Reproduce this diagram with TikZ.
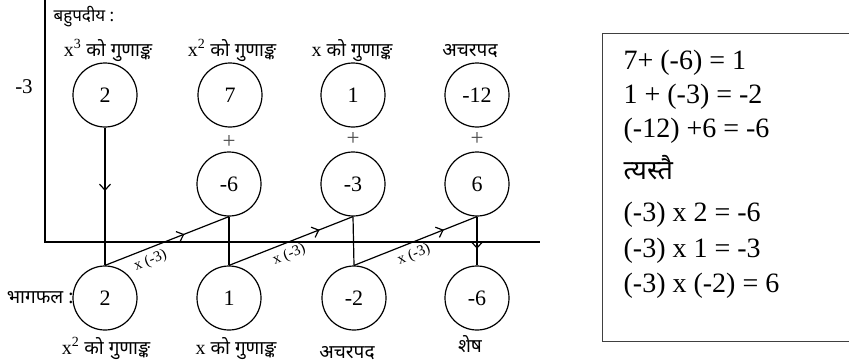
\documentclass[tikz,border=0pt]{standalone}
\usepackage{fontspec}
\setmainfont{Liberation Serif}
\newfontfamily\dev[Script=Devanagari]{Noto Sans}
\usetikzlibrary{arrows.meta,decorations.markings}
\newcommand{\dv}[1]{{\dev\fontsize{19}{21}\selectfont #1}}
\begin{document}
\begin{tikzpicture}[x=1pt,y=-1pt,line width=1.2pt,
  circ/.style={circle,draw,minimum size=64pt,inner sep=0pt,font=\fontsize{22}{24}\selectfont},
  lab/.style={font=\fontsize{20}{22}\selectfont,inner sep=0pt,anchor=base},
  devlab/.style={font=\fontsize{19}{21}\selectfont\dev,inner sep=0pt,anchor=base},
  plus/.style={font=\fontsize{23}{25}\selectfont,text=black!70,inner sep=0pt},
  mul/.style={font=\fontsize{15}{17}\selectfont,inner sep=0pt,sloped,below=5pt},
  boxtxt/.style={font=\fontsize{28}{30}\selectfont,inner sep=0pt,anchor=base west},
  midarrow/.style={postaction={decorate},decoration={markings,
     mark=at position #1 with {\arrow{Straight Barb[length=6pt,width=11pt,line width=1.2pt]}}}}]
\useasboundingbox (0,0) rectangle (849,364);

% axes
\coordinate (ytop) at (45,0);
\coordinate (corner) at (45,242);
\coordinate (xend) at (540,242);
\draw (ytop) -- (corner) -- (xend);

% texts on left
\node[font=\fontsize{17}{19}\selectfont\dev,anchor=base west,inner sep=0pt] (poly) at (53,21) {बहुपदीय :};
\node[font=\fontsize{21}{23}\selectfont,inner sep=0pt] (div) at (24,87) {-3};
\node[font=\fontsize{19}{21}\selectfont\dev,anchor=east,inner sep=0pt] (quot) at (74,298) {भागफल :};

% top labels
\node[lab] (t1) at (108,56) {x\textsuperscript{3} \dv{को गुणाङ्क}};
\node[lab] (t2) at (232,56) {x\textsuperscript{2} \dv{को गुणाङ्क}};
\node[lab] (t3) at (352,56) {x \dv{को गुणाङ्क}};
\node[devlab] (t4) at (470,56) {अचरपद};

% circles
\node[circ] (a1) at (105,95) {2};
\node[circ] (a2) at (230,95) {7};
\node[circ] (a3) at (353,95) {1};
\node[circ] (a4) at (477,95) {-12};
\node[circ] (b2) at (229,184) {-6};
\node[circ] (b3) at (353,184) {-3};
\node[circ] (b4) at (477,184) {6};
\node[circ] (c1) at (105,298) {2};
\node[circ] (c2) at (229,298) {1};
\node[circ] (c3) at (354,298) {-2};
\node[circ] (c4) at (477,298) {-6};

% plus signs
\node[plus] (p2) at (229,142) {+};
\node[plus] (p3) at (353,139) {+};
\node[plus] (p4) at (477,139) {+};

% bottom labels
\node[lab] (u1) at (106,354) {x\textsuperscript{2} \dv{को गुणाङ्क}};
\node[lab] (u2) at (236,354) {x \dv{को गुणाङ्क}};
\node[devlab] (u3) at (347,358) {अचरपद};
\node[devlab] (u4) at (470,352) {शेष};

% connectors
\draw[midarrow=0.46] (a1.south) -- (c1.north);
\draw (b2.south) -- (c2.north);
\draw (b3.south) -- (c3.north);
\draw[midarrow=0.66] (b4.south) -- (c4.north);
\draw[midarrow=0.64] (c1.north) -- node[mul,pos=0.33] {x (-3)} (b2.south);
\draw[midarrow=0.73] (c2.north) -- node[mul,pos=0.45] {x (-3)} (b3.south);
\draw[midarrow=0.73] (c3.north) -- node[mul,pos=0.45] {x (-3)} (b4.south);

% right box
\coordinate (bx1) at (849,33);
\coordinate (bx2) at (602,33);
\coordinate (bx3) at (602,341);
\coordinate (bx4) at (849,341);
\draw[line width=1pt,black!75] (bx1) -- (bx2) -- (bx3) -- (bx4);
\node[boxtxt] (e1) at (623,69) {7+ (-6) = 1};
\node[boxtxt] (e2) at (623,103) {1 + (-3) = -2};
\node[boxtxt] (e3) at (623,137) {(-12) +6 = -6};
\node[boxtxt,font=\fontsize{27}{29}\selectfont\dev] (e4) at (623,179) {त्यस्तै};
\node[boxtxt] (e5) at (623,221) {(-3) x 2 = -6};
\node[boxtxt] (e6) at (623,257) {(-3) x 1 = -3};
\node[boxtxt] (e7) at (623,292) {(-3) x (-2) = 6};
\end{tikzpicture}
\end{document}
